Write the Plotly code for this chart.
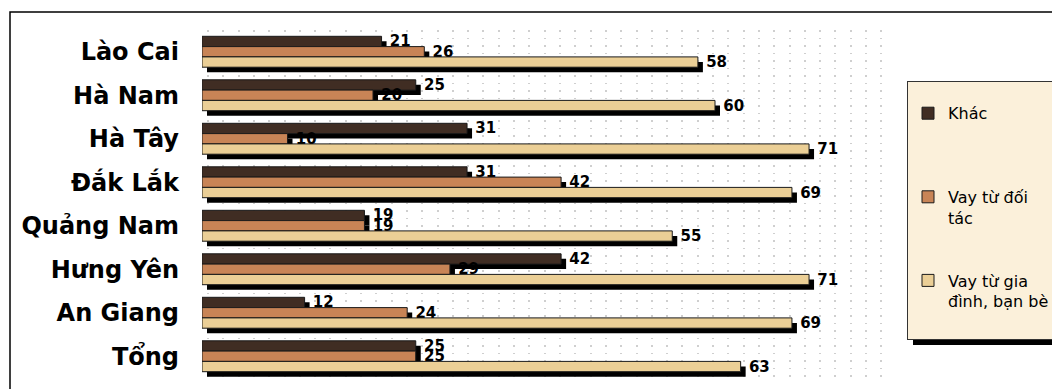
import plotly.graph_objects as go

categories = ["Lào Cai", "Hà Nam", "Hà Tây", "Đắk Lắk", "Quảng Nam", "Hưng Yên", "An Giang", "Tổng"]
khac = [21, 25, 31, 31, 19, 42, 12, 25]
doi_tac = [26, 20, 10, 42, 19, 29, 24, 25]
gia_dinh = [58, 60, 71, 69, 55, 71, 69, 63]

series = [
    ("Khác<br> ", khac, "#402d23"),
    ("Vay từ đối<br>tác", doi_tac, "#c88456"),
    ("Vay từ gia<br>đình, bạn bè<br><span style='font-size:10px'> </span>", gia_dinh, "#ebcf96"),
]

W, H = 1052, 389
L, R, T, B = 202, 166, 30, 11
XMAX = 80
pw = W - L - R
ph = H - T - B
px_per_unit = pw / XMAX
cat_px = ph / len(categories)
bw = 10.3 / cat_px
shadow_dx = 5 / px_per_unit
shadow_dy = 5 / cat_px
offsets = [-1.5 * bw, -0.5 * bw, 0.5 * bw]

FONT = "DejaVu Sans, Liberation Sans, Arial, sans-serif"

fig = go.Figure()
# drop shadows
for (name, vals, col), off in zip(series, offsets):
    fig.add_trace(go.Bar(
        y=categories, x=vals, base=[shadow_dx] * len(vals), orientation="h",
        offset=off + shadow_dy, width=bw, marker=dict(color="black", line=dict(width=0)),
        showlegend=False, hoverinfo="skip"))
# main bars
for i, ((name, vals, col), off) in enumerate(zip(series, offsets)):
    fig.add_trace(go.Bar(
        y=categories, x=vals, orientation="h", name=name,
        offset=off, width=bw, legendgroup=f"g{i}",
        marker=dict(color=col, line=dict(color="#1a1a1a", width=1)),
        text=vals, texttemplate="\u00a0%{x}", textposition="outside",
        constraintext="none", cliponaxis=False,
        textfont=dict(family=FONT, size=15, color="black", weight="bold")))

def px2x(p):
    return (p - L) / pw
def px2y(p):
    return 1 - (p - T) / ph

shapes = [
    dict(type="rect", xref="paper", yref="paper", x0=px2x(10), x1=px2x(1080),
         y0=px2y(400), y1=px2y(12), line=dict(color="black", width=1.5), fillcolor="rgba(0,0,0,0)", layer="below"),
    dict(type="rect", xref="paper", yref="paper", x0=px2x(913), x1=px2x(1070),
         y0=px2y(345), y1=px2y(86), line=dict(width=0), fillcolor="black", layer="above"),
]

fig.update_layout(
    width=W, height=H,
    margin=dict(l=L, r=R, t=T, b=B, autoexpand=False),
    barmode="overlay",
    paper_bgcolor="white", plot_bgcolor="white",
    font=dict(family=FONT, color="black"),
    shapes=shapes,
    xaxis=dict(range=[0, XMAX], showticklabels=False, ticks="", zeroline=False,
               showgrid=True, gridcolor="#cfcfcf", gridwidth=1.5, griddash="1.5px,6px",
               tick0=0.7, dtick=1.79, showline=False, fixedrange=True),
    yaxis=dict(categoryorder="array", categoryarray=categories, range=[7.5, -0.5],
               showgrid=False, zeroline=False, showline=False, ticks="",
               ticklabelstandoff=22,
               tickfont=dict(family=FONT, size=24, color="black", weight="bold")),
    legend=dict(x=px2x(907), y=px2y(81), xanchor="left", yanchor="top",
                bgcolor="#fbf0da", bordercolor="#333333", borderwidth=1,
                font=dict(family=FONT, size=16, color="black"),
                traceorder="grouped", tracegroupgap=39, itemwidth=30, valign="top",
                title=dict(text=" ", font=dict(size=11))),
)

fig.write_html("out.html")
